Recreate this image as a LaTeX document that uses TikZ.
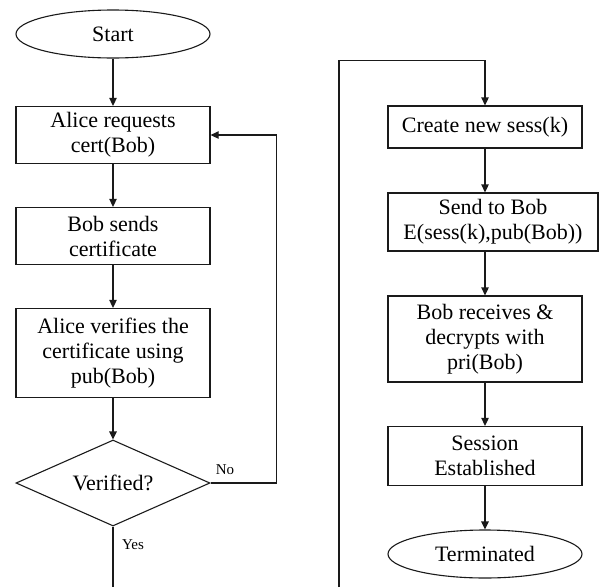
\documentclass[tikz,border=0pt]{standalone}
\usepackage{fontspec}
\setmainfont{Liberation Serif}
\usetikzlibrary{arrows.meta,positioning,shapes.geometric,calc}
\definecolor{flowline}{HTML}{1A1A1A}

\tikzset{
  flowbox/.style={draw=flowline, line width=1.3pt, rectangle, align=center, inner sep=0pt,
    minimum width=194pt, font=\fontsize{22}{25}\selectfont},
  termbox/.style={draw=flowline, line width=1.1pt, ellipse, inner sep=0pt,
    minimum width=194pt, minimum height=48pt, font=\fontsize{22}{25}\selectfont},
  decbox/.style={draw=flowline, line width=1.1pt, diamond, inner sep=0pt, aspect=2.26,
    minimum width=194pt, minimum height=86pt, font=\fontsize{22}{25}\selectfont},
  flowarr/.style={draw=flowline, line width=1.3pt, -{Triangle[length=8pt,width=7.5pt]}},
  flowln/.style={draw=flowline, line width=1.3pt},
  branchlbl/.style={font=\fontsize{15}{17}\selectfont}
}

\begin{document}
\begin{tikzpicture}[x=1pt,y=-1pt]
\useasboundingbox (0,0) rectangle (600,587);

\node[termbox] (start)   at (113,34)  {Start};
\node[flowbox, minimum height=57pt] (req)    at (113,135) {Alice requests\\cert(Bob)};
\node[flowbox, minimum height=57pt] (sends)  at (113,236) {Bob sends\\certificate};
\node[flowbox, minimum height=89pt] (verify) at (113,353) {Alice verifies the\\certificate using\\pub(Bob)};
\node[decbox] (check) at (113,483) {Verified?};

\node[flowbox, minimum height=42pt] (create)  at (485,127) {Create new sess(k)};
\node[flowbox, minimum width=210pt, minimum height=58pt] (sendbob) at (493,222) {Send to Bob\\E(sess(k),pub(Bob))};
\node[flowbox, minimum height=86pt] (receive) at (485,339) {Bob receives \&\\decrypts with\\pri(Bob)};
\node[flowbox, minimum height=59pt] (sess)    at (485,456) {Session\\Established};
\node[termbox] (term) at (485,554) {Terminated};

\draw[flowarr] (start) -- (req);
\draw[flowarr] (req) -- (sends);
\draw[flowarr] (sends) -- (verify);
\draw[flowarr] (verify) -- (check);
\draw[flowarr] (check.east) -- ++(66,0) |- (req.east);
\node[branchlbl] (no) at (225,470) {No};

\coordinate (yesend) at (113,587);
\draw[flowln] (check.south) -- (yesend);
\node[branchlbl] (yes) at (133,545) {Yes};

\coordinate (loopin) at (339,587);
\draw[flowarr] (loopin) |- ($(create.north)+(0,-45)$) -- (create.north);
\draw[flowarr] (create.south) -- (create.south |- sendbob.north);
\draw[flowarr] (create.south |- sendbob.south) -- (receive);
\draw[flowarr] (receive) -- (sess);
\draw[flowarr] (sess) -- (term);
\end{tikzpicture}
\end{document}
